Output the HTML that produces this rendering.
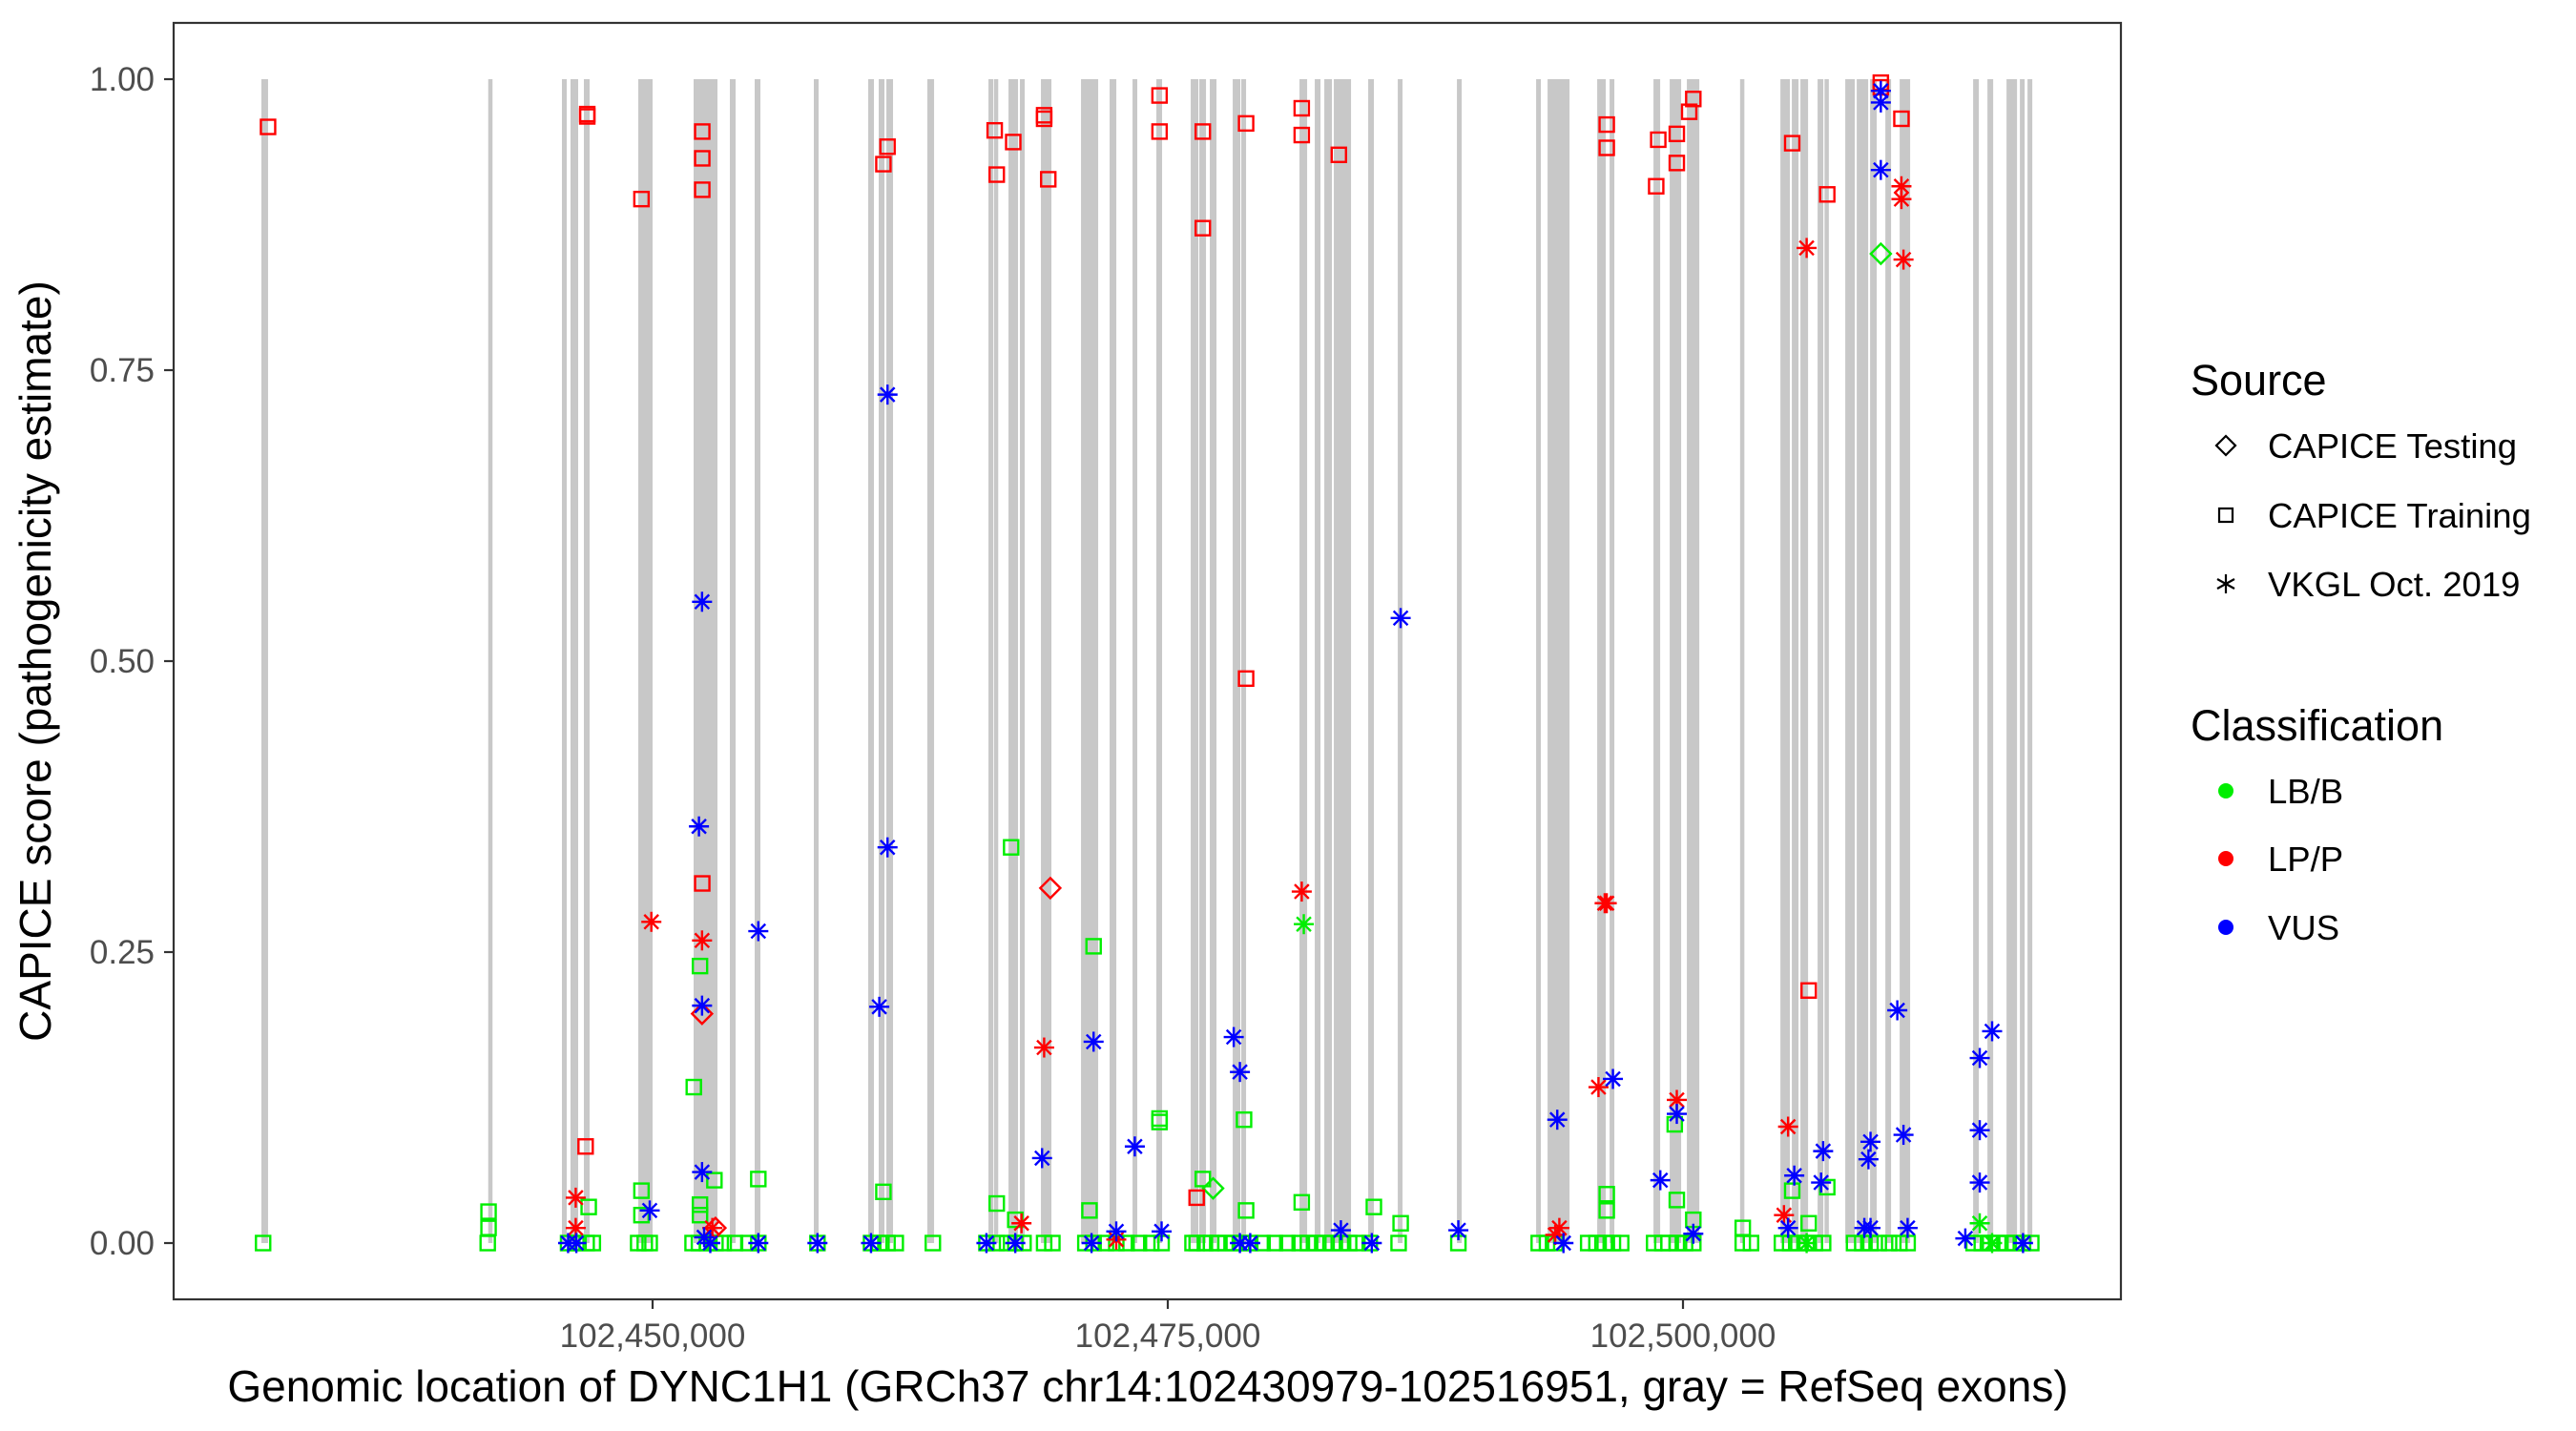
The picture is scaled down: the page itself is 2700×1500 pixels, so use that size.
<!DOCTYPE html>
<html><head><meta charset="utf-8"><title>DYNC1H1 CAPICE scores</title>
<style>
html,body{margin:0;padding:0;background:#fff;}
svg{display:block;font-family:"Liberation Sans",Arial,sans-serif;}
</style></head>
<body>
<svg id="chart" width="2700" height="1500" viewBox="0 0 2700 1500" xmlns="http://www.w3.org/2000/svg">
<rect x="0" y="0" width="2700" height="1500" fill="#fff"/>
<g id="exons"></g>
<g id="points"></g>
<rect x="182" y="24" width="2041" height="1338" fill="none" stroke="#333" stroke-width="2.2"/>
<g id="yaxis"></g>
<g id="xaxis"></g>
<text x="53" y="693" transform="rotate(-90 53 693)" text-anchor="middle" font-size="46" fill="#000">CAPICE score (pathogenicity estimate)</text>
<text x="1203" y="1469" text-anchor="middle" font-size="46" fill="#000">Genomic location of DYNC1H1 (GRCh37 chr14:102430979-102516951, gray = RefSeq exons)</text>
<g>
<text x="2296" y="414" font-size="45" fill="#000">Source</text>
<g>
<polygon points="2333,457 2343,467 2333,477 2323,467" fill="none" stroke="#000" stroke-width="2.2"/>
<text x="2377" y="480" font-size="36.5" fill="#000">CAPICE Testing</text></g>
<g>
<rect x="2326" y="533" width="14" height="14" fill="none" stroke="#000" stroke-width="2.2"/>
<text x="2377" y="553" font-size="36.5" fill="#000">CAPICE Training</text></g>
<g>
<g stroke="#000" stroke-width="2.2"><line x1="2333" y1="602" x2="2333" y2="622"/><line x1="2324" y1="607" x2="2342" y2="617"/><line x1="2324" y1="617" x2="2342" y2="607"/></g>
<text x="2377" y="625" font-size="36.5" fill="#000">VKGL Oct. 2019</text></g>
<text x="2296" y="776" font-size="45" fill="#000">Classification</text>
<g><circle cx="2333" cy="829" r="8" fill="#00ee00"/><text x="2377" y="842" font-size="36.5" fill="#000">LB/B</text></g>
<g><circle cx="2333" cy="900" r="8" fill="#ff0000"/><text x="2377" y="913" font-size="36.5" fill="#000">LP/P</text></g>
<g><circle cx="2333" cy="972" r="8" fill="#0000ff"/><text x="2377" y="985" font-size="36.5" fill="#000">VUS</text></g>
</g>
</svg>
<script>
const exonStart=[102431017,102442036,102445601,102446018,102446666,102449305,102451991,102453750,102454954,102457825,102460464,102460973,102461344,102463334,102466298,102466575,102467270,102467826,102468844,102470789,102472178,102473289,102474446,102476113,102476530,102477039,102478150,102478567,102481391,102482132,102482595,102483058,102484725,102486160,102489031,102492874,102493429,102495837,102496439,102498569,102499356,102500189,102502782,102504727,102505282,102505699,102506532,102506903,102507875,102508431,102509079,102509820,102510514,102514079,102514774,102515700,102516348,102516718];
const exonEnd=[102431341,102442222,102445833,102446389,102446944,102450000,102453148,102454028,102455232,102458056,102460742,102461251,102461668,102463659,102466529,102466761,102467733,102468057,102469353,102471622,102472502,102473520,102474724,102476484,102476854,102477363,102478521,102478799,102481762,102482410,102482966,102483892,102485003,102486392,102489262,102493105,102494494,102496254,102496670,102498893,102499911,102500791,102502967,102505190,102505606,102506069,102506810,102507042,102508338,102508986,102509403,102510097,102511023,102514357,102515052,102516209,102516579,102516950];
const yTicks=[0,0.25,0.5,0.75,1];
const yTickLabels=["0.00","0.25","0.50","0.75","1.00"];
const xTicks=[102450000,102475000,102500000];
const xTickLabels=["102,450,000","102,475,000","102,500,000"];

const greenBasePos=[102431100,102442000,102445900,102446300,102446800,102447100,102449300,102449620,102449860,102451940,102452250,102452650,102453050,102453450,102454000,102454650,102455130,102458000,102460600,102461000,102461400,102461800,102463600,102466200,102466700,102467200,102467600,102468000,102469000,102469400,102471000,102471400,102472000,102472500,102473000,102473600,102474200,102474700,102476200,102476400,102476800,102477100,102477400,102477800,102478200,102478600,102479000,102479600,102480200,102480800,102481400,102481800,102482200,102482600,102483000,102483400,102483800,102484200,102484800,102486200,102489100,102493000,102493400,102493800,102495400,102495800,102496200,102496600,102497000,102498600,102499000,102499300,102499700,102500100,102500500,102502900,102503300,102504800,102505200,102505600,102506000,102506400,102506800,102508300,102508700,102509100,102509500,102510000,102510500,102510900,102514100,102514500,102514900,102515300,102515700,102516100,102516500,102516900];

const pointPos=[
102442040,102442040,102446900,102449460,102449460,102452000,102452300,102452300,102452300,102453000,102455130,102461200,102467400,102466700,102467600,102471400,102471200,102474600,102474600,102476700,102478700,102478800,102481500,102485000,102486300,102496300,102496300,102499600,102499700,102500500,102502900,102507000,102505300,102506100,
102481600,102514400,102506000,102515000,102477200,102509600,
102431340,102446830,102446830,102449460,102452410,102452410,102452410,102452410,102446750,102461200,102461400,102466600,102467500,102466700,102469000,102469000,102469200,102474600,102474600,102476700,102476700,102478800,102478800,102481500,102481500,102483300,102496300,102496300,102498800,102498700,102499700,102499700,102500500,102500300,102505300,102507000,102509600,102509600,102510600,102506100,102476400,
102446270,102446270,102449940,102452400,102469000,102467900,102472500,102481500,102496200,102496300,102495900,102494000,102493800,102499700,102505100,102504900,102506000,102510600,102510600,102510700,102452900,
102469300,102452400,102453050,
102461400,102452400,102486300,102452250,102461400,102455130,102461000,102452400,102471400,102478200,102478500,102468900,102473400,102452400,102449860,102509600,102509600,102509600,102510400,102515000,102514400,102514400,102514400,102510700,102496600,102493900,102499700,102498900,102506800,102505400,102506700,102509100,102509000,102508800,102510900,102500500,102489100,102483400,102484900,
102445900,102446300,102452800,102452500,102455130,102458000,102460600,102466200,102467600,102471300,102472500,102474700,102478500,102479000,102494200,102505100,102513700,102516500,102509100];
const pointScore=[
0.027,0.013,0.031,0.045,0.024,0.134,0.238,0.033,0.024,0.054,0.055,0.044,0.340,0.034,0.020,0.255,0.028,0.107,0.104,0.055,0.106,0.028,0.035,0.031,0.017,0.042,0.028,0.102,0.037,0.020,0.013,0.048,0.045,0.017,
0.274,0.017,0.000,0.000,0.047,0.850,
0.959,0.970,0.968,0.897,0.955,0.932,0.905,0.309,0.083,0.927,0.942,0.956,0.946,0.918,0.969,0.966,0.914,0.986,0.955,0.955,0.872,0.962,0.485,0.975,0.952,0.935,0.961,0.941,0.948,0.908,0.953,0.928,0.983,0.972,0.945,0.901,0.997,0.993,0.966,0.217,0.039,
0.039,0.013,0.276,0.260,0.168,0.017,0.003,0.302,0.292,0.292,0.134,0.013,0.007,0.123,0.100,0.024,0.855,0.908,0.897,0.845,0.013,
0.305,0.197,0.013,
0.729,0.551,0.537,0.358,0.340,0.268,0.203,0.204,0.173,0.177,0.147,0.073,0.083,0.061,0.028,0.922,0.990,0.980,0.200,0.182,0.159,0.097,0.052,0.093,0.141,0.106,0.111,0.054,0.079,0.058,0.052,0.087,0.072,0.013,0.013,0.008,0.011,0.011,0.000,
0,0,0,0.005,0,0,0,0,0,0,0.010,0.010,0,0,0,0.013,0.004,0,0.013];
const pointSource=[
"R","R","R","R","R","R","R","R","R","R","R","R","R","R","R","R","R","R","R","R","R","R","R","R","R","R","R","R","R","R","R","R","R","R",
"V","V","V","V","T","T",
"R","R","R","R","R","R","R","R","R","R","R","R","R","R","R","R","R","R","R","R","R","R","R","R","R","R","R","R","R","R","R","R","R","R","R","R","R","R","R","R","R",
"V","V","V","V","V","V","V","V","V","V","V","V","V","V","V","V","V","V","V","V","V",
"T","T","T",
"V","V","V","V","V","V","V","V","V","V","V","V","V","V","V","V","V","V","V","V","V","V","V","V","V","V","V","V","V","V","V","V","V","V","V","V","V","V","V",
"V","V","V","V","V","V","V","V","V","V","V","V","V","V","V","V","V","V","V"];
const pointClass=[];
(function(){const counts=[["B",40],["P",65],["U",58]];counts.forEach(c=>{for(let i=0;i<c[1];i++)pointClass.push(c[0]);});})();

const NS="http://www.w3.org/2000/svg";
const X0=102450000, PX0=684, KX=0.0216;
function xs(v){return PX0+(v-X0)*KX;}
function ys(s){return 1303-s*1220;}
const colors={B:"#00ee00",P:"#ff0000",U:"#0000ff"};
function mk(tag,attrs,parent){const e=document.createElementNS(NS,tag);for(const k in attrs)e.setAttribute(k,attrs[k]);parent.appendChild(e);return e;}

const gEx=document.getElementById('exons');
for(let i=0;i<exonStart.length;i++){
  const x1=xs(exonStart[i]),x2=xs(exonEnd[i]);
  const w=Math.max(x2-x1,4.5);
  const r=mk('rect',{x:(x1+x2)/2-w/2,y:ys(1),width:w,height:ys(0)-ys(1),fill:"#c8c8c8"},gEx);
  
  
}

const gP=document.getElementById('points');
function drawPoint(pos,score,src,cls){
  const x=xs(pos),y=ys(score),c=colors[cls];let e;
  if(src==="R"){
    e=mk('rect',{x:x-7.5,y:y-7.5,width:15,height:15,fill:"none",stroke:c,"stroke-width":2.4},gP);
    
  }else if(src==="T"){
    e=mk('polygon',{points:`${x},${y-10.5} ${x+10.5},${y} ${x},${y+10.5} ${x-10.5},${y}`,fill:"none",stroke:c,"stroke-width":2.4},gP);
    
  }else{
    e=mk('g',{stroke:c,"stroke-width":2.4},gP);
    const r=10.5,d=7.4;
    mk('line',{x1:x,y1:y-r,x2:x,y2:y+r},e);
    mk('line',{x1:x-r,y1:y,x2:x+r,y2:y},e);
    mk('line',{x1:x-d,y1:y-d,x2:x+d,y2:y+d},e);
    mk('line',{x1:x-d,y1:y+d,x2:x+d,y2:y-d},e);
    
  }
  
}
greenBasePos.forEach(p=>drawPoint(p,0,"R","B"));
const order=["B","P","U"];
order.forEach(cl=>{for(let i=0;i<pointPos.length;i++){if(pointClass[i]===cl)drawPoint(pointPos[i],pointScore[i],pointSource[i],pointClass[i]);}});

const gY=document.getElementById('yaxis');
yTicks.forEach((t,i)=>{
  const y=ys(t);
  const l=mk('line',{x1:172,y1:y,x2:182,y2:y,stroke:"#333","stroke-width":2.2},gY);
  
  
  const tx=mk('text',{x:162,y:y+12,"text-anchor":"end","font-size":35,fill:"#4d4d4d"},gY);
  tx.textContent=yTickLabels[i];
  
  
});
const gX=document.getElementById('xaxis');
xTicks.forEach((t,i)=>{
  const x=xs(t);
  const l=mk('line',{x1:x,y1:1362,x2:x,y2:1372,stroke:"#333","stroke-width":2.2},gX);
  
  
  const tx=mk('text',{x:x,y:1412,"text-anchor":"middle","font-size":35,fill:"#4d4d4d"},gX);
  tx.textContent=xTickLabels[i];
  
  
});
</script>
</body></html>
